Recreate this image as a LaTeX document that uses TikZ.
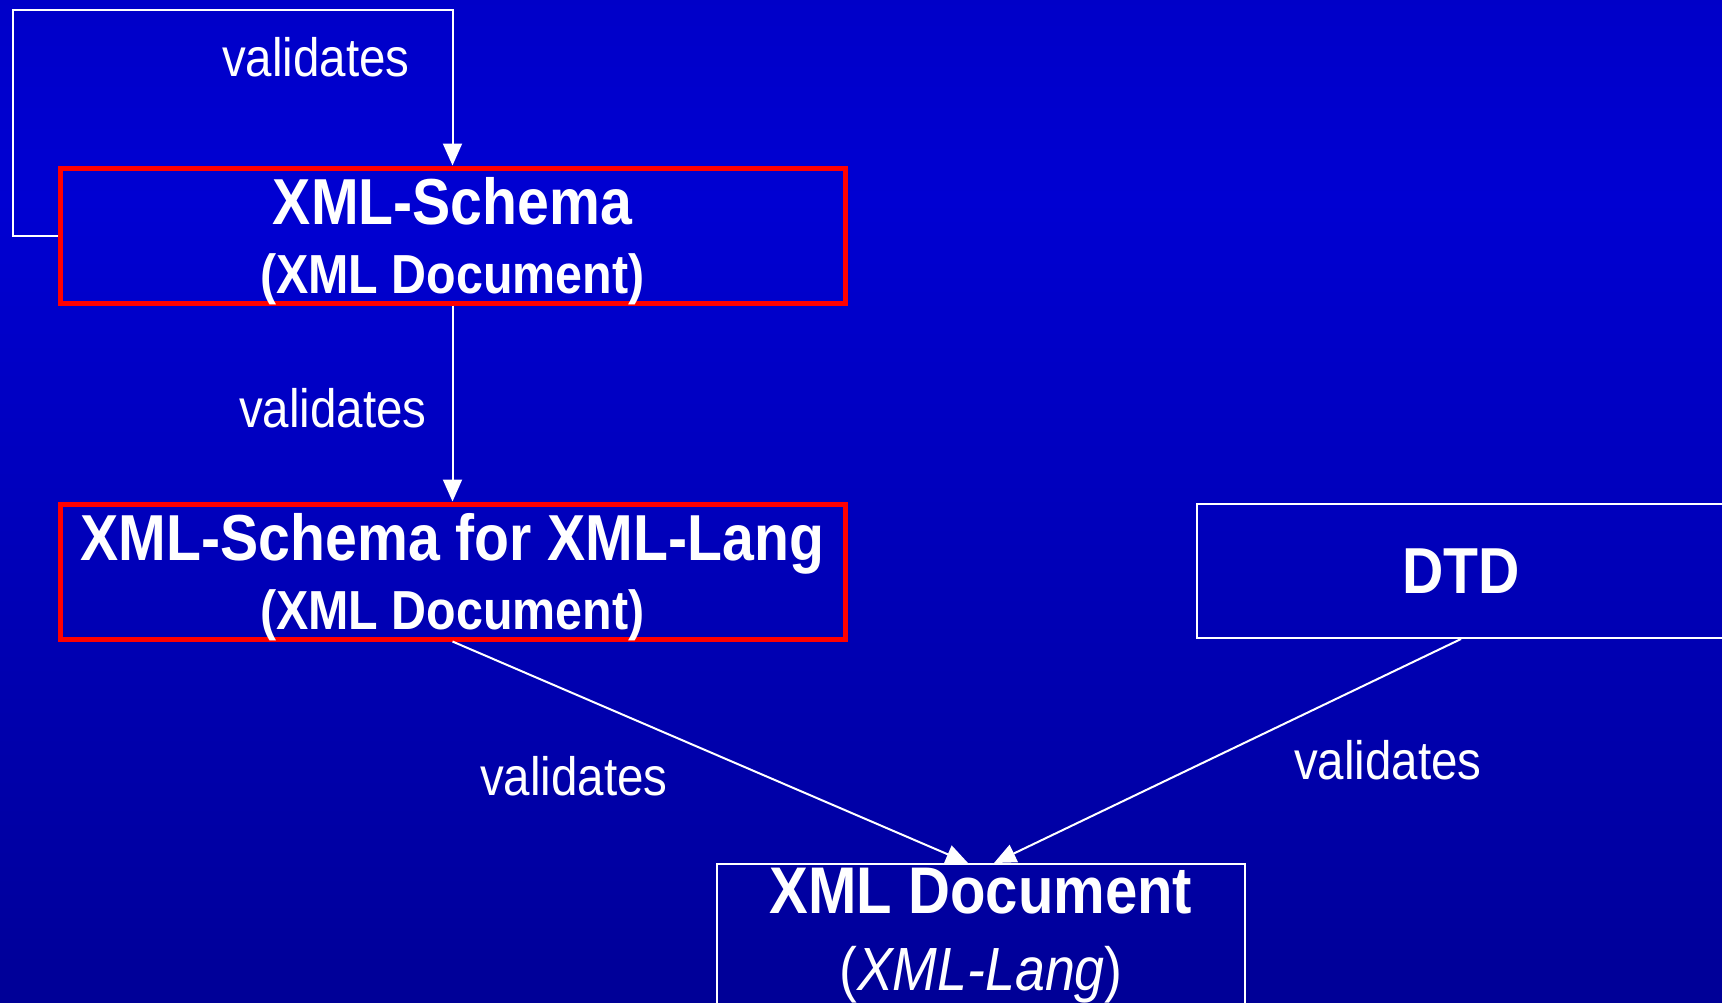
\documentclass[tikz,border=0pt]{standalone}
\usepackage{fontspec}
\setmainfont{Liberation Sans}[FakeStretch=0.88]
\usetikzlibrary{arrows.meta,calc}

\definecolor{bgA}{RGB}{0,0,176}
\definecolor{bgB}{RGB}{0,0,210}
\definecolor{bgC}{RGB}{0,0,160}
\definecolor{bgD}{RGB}{0,0,102}
\definecolor{boxred}{RGB}{255,0,0}

\pgfdeclareverticalshading{slidebg}{100bp}{%
  color(0bp)=(bgD); color(30bp)=(bgC); color(65bp)=(bgB); color(100bp)=(bgA)}

% second title line without depth, so it sits a little lower in its box
\newcommand{\subline}[1]{\fontsize{55}{66}\selectfont\raisebox{0pt}[\height][0pt]{#1}}

\tikzset{
  schemabox/.style={draw=boxred, line width=5pt, minimum width=785pt,
    minimum height=135pt, inner sep=0pt, align=center, text=white},
  plainbox/.style={draw=white, line width=2pt, inner sep=0pt, align=center,
    text=white},
  link/.style={draw=white, line width=2pt,
    -{Triangle[length=22pt,width=19pt]}},
  edgetext/.style={text=white, inner sep=0pt,
    font=\fontsize{54}{60}\selectfont},
  titlefont/.style={font=\bfseries\fontsize{65}{68}\selectfont},
}

\begin{document}
\begin{tikzpicture}[x=1pt,y=-1pt]
  % slide background
  \useasboundingbox (0,0) rectangle (1722,1002);
  \shade[shading=slidebg] (0,0) rectangle (1722,1002);

  % boxes
  \node[schemabox, titlefont] (s1) at (452.5,235.5)
    {XML-Schema\\[1pt]\subline{(XML Document)}};
  \node[schemabox, titlefont] (s2) at (452.5,571.5)
    {XML-Schema for XML-Lang\\[1pt]\subline{(XML Document)}};
  \node[plainbox, titlefont, minimum width=528pt, minimum height=134pt]
    (dtd) at (1461,571) {DTD};
  \node[plainbox, font=\bfseries\fontsize{66}{70}\selectfont,
    minimum width=528pt, minimum height=144pt]
    (doc) at (981,936)
    {XML Document\\[7pt]\mdseries\fontsize{61}{68}\selectfont (\textit{XML-Lang})};

  % loop corner and arrow entry points
  \coordinate (loop) at (13,10);
  \coordinate (inL) at ($(doc.north)+(-13,0)$);
  \coordinate (inR) at ($(doc.north)+(13,0)$);

  % connectors
  \draw[link] (s1.west) -| (loop) -| (s1.north);
  \draw[link] (s1.south) -- (s2.north);
  \draw[link] (s2.south) -- (inL);
  \draw[link] (dtd.south) -- (inR);

  % connector labels
  \node[edgetext] (v1) at (316,57) {validates};
  \node[edgetext] (v2) at (333,408) {validates};
  \node[edgetext] (v3) at (574,776) {validates};
  \node[edgetext] (v4) at (1388,760) {validates};
\end{tikzpicture}
\end{document}
